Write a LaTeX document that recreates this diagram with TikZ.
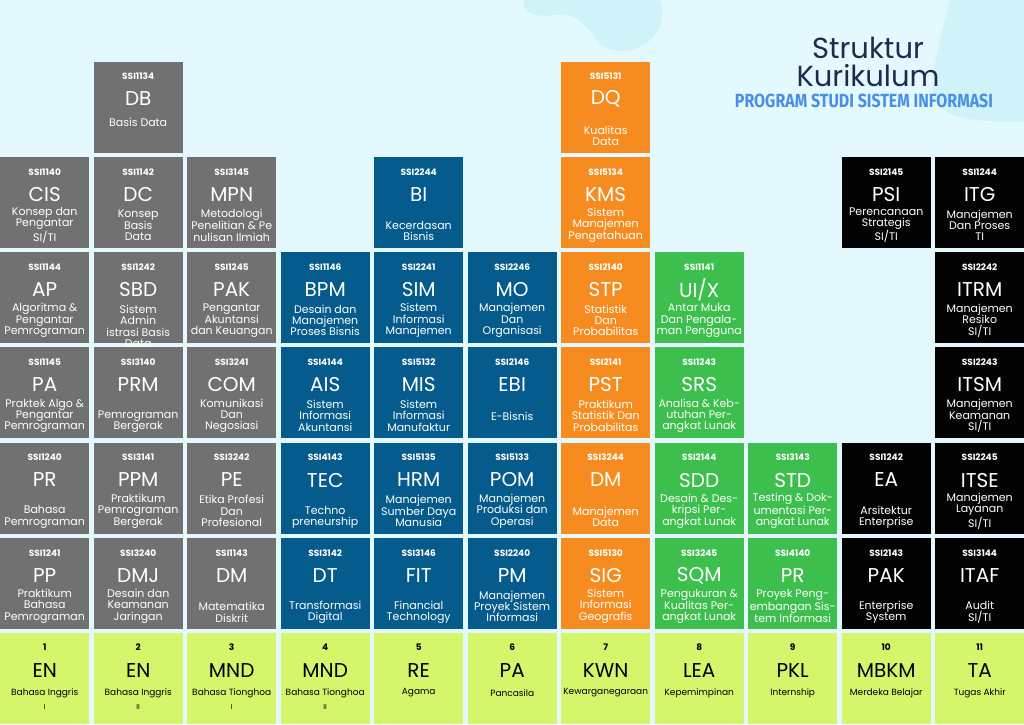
\documentclass[tikz,border=0pt]{standalone}
\usepackage{fontspec}
\setmainfont{Poppins}
\newfontfamily\subf{Fira Sans}
\usepackage{graphicx}
\definecolor{bgc}{HTML}{E4F9FD}
\definecolor{blobc}{HTML}{D0F3F9}
\definecolor{cgray}{HTML}{717171}
\definecolor{cblue}{HTML}{045B8C}
\definecolor{corange}{HTML}{F68B1F}
\definecolor{cgreen}{HTML}{3DBF4D}
\definecolor{cblack}{HTML}{030303}
\definecolor{clime}{HTML}{D5F66B}
\definecolor{ctitle}{HTML}{1E2B4D}
\definecolor{csub}{HTML}{4A8FE6}
\tikzset{
  cbox/.style={anchor=north west, minimum width=89pt, minimum height=91pt, inner sep=0pt, draw=none},
  ccode/.style={font=\fontsize{9}{10}\selectfont\bfseries, text=white, inner sep=0pt},
  cabbr/.style={font=\fontsize{20}{22}\selectfont, text=white, inner sep=0pt},
  cdesc/.style={font=\fontsize{11}{11.3}\selectfont, text=white, align=center, inner sep=0pt},
  lnum/.style={font=\fontsize{9}{10}\selectfont\bfseries, text=black, inner sep=0pt},
  labbr/.style={font=\fontsize{20}{22}\selectfont, text=black, inner sep=0pt},
  ldesc/.style={font=\fontsize{9}{10}\selectfont, text=black, inner sep=0pt},
  lrom/.style={font=\fontsize{7}{8}\selectfont, text=black, inner sep=0pt},
  ttl/.style={font=\fontsize{29}{31}\selectfont, text=ctitle, inner sep=0pt},
}
\newcommand\crs[8]{%
  \pgfmathsetmacro\cx{(#2-1)*93.5}%
  \pgfmathsetmacro\cy{61.5+95.25*#3}%
  \node[cbox, fill=#4] (#1) at (\cx,\cy) {};
  \node[ccode] (#1-code) at ([yshift=-15pt]#1.north) {#5};
  \node[cabbr] (#1-abbr) at ([yshift=-37.5pt]#1.north) {#6};
  \node[cdesc] (#1-desc) at ([yshift=-#8pt]#1.north) {#7};
}
\newcommand\lime[5]{%
  \pgfmathsetmacro\cx{(#2-1)*93.5}%
  \node[cbox, fill=clime] (#1) at (\cx,633) {};
  \node[lnum] (#1-num) at ([yshift=-14pt]#1.north) {#3};
  \node[labbr] (#1-abbr) at ([yshift=-38pt]#1.north) {#4};
  \node[ldesc] (#1-desc) at ([yshift=-60pt]#1.north) {#5};
}
\begin{document}
\begin{tikzpicture}[x=1pt,y=-1pt]
\useasboundingbox (0,0) rectangle (1024,724);
\fill[bgc] (0,0) rectangle (1024,724);
% blobs
\fill[blobc] (524,0) .. controls (520,12) and (535,18) .. (555,15)
  .. controls (580,12) and (588,30) .. (598,42)
  .. controls (608,55) and (640,55) .. (655,35)
  .. controls (665,20) and (663,8) .. (660,0) -- cycle;
\fill[blobc] (950,0) .. controls (940,40) and (928,80) .. (935,100)
  .. controls (945,120) and (980,122) .. (1024,122) -- (1024,0) -- cycle;
% title
\node[ttl] (t1) at (868,48) {Struktur};
\node[ttl] (t2) at (868,76) {Kurikulum};
\node[inner sep=0pt, text=csub] (t3) at (864,100.5) {\resizebox{258pt}{13.5pt}{\subf\bfseries PROGRAM STUDI SISTEM INFORMASI}};
% row 0
\crs{db}{2}{0}{cgray}{SSI1134}{DB}{Basis Data}{61}
\crs{dq}{7}{0}{corange}{SSI5131}{DQ}{Kualitas\\Data}{74.5}
% row 1
\crs{cis}{1}{1}{cgray}{SSI1140}{CIS}{Konsep dan\\Pengantar\\SI/TI}{68.5}
\crs{dc}{2}{1}{cgray}{SSI1142}{DC}{Konsep\\Basis\\Data}{68.5}
\crs{mpn}{3}{1}{cgray}{SSI3145}{MPN}{Metodologi\\Penelitian \& Pe\\nulisan Ilmiah}{68.5}
\crs{bi}{5}{1}{cblue}{SSI2244}{BI}{Kecerdasan\\Bisnis}{74.5}
\crs{kms}{7}{1}{corange}{SSI5134}{KMS}{Sistem\\Manajemen\\Pengetahuan}{68.5}
\crs{psi}{10}{1}{cblack}{SSI2145}{PSI}{Perencanaan\\Strategis\\SI/TI}{68.5}
\crs{itg}{11}{1}{cblack}{SSI1244}{ITG}{Manajemen\\Dan Proses\\TI}{68.5}
% row 2
\crs{ap}{1}{2}{cgray}{SSI1144}{AP}{Algoritma \&\\Pengantar\\Pemrograman}{68.5}
\crs{sbd}{2}{2}{cgray}{SSI1242}{SBD}{Sistem\\Admin\\istrasi Basis\\Data}{74.5}
\crs{pak}{3}{2}{cgray}{SSI1245}{PAK}{Pengantar\\Akuntansi\\dan Keuangan}{68.5}
\crs{bpm}{4}{2}{cblue}{SSI1146}{BPM}{Desain dan\\Manajemen\\Proses Bisnis}{68.5}
\crs{sim}{5}{2}{cblue}{SSI2241}{SIM}{Sistem\\Informasi\\Manajemen}{68.5}
\crs{mo}{6}{2}{cblue}{SSI2246}{MO}{Manajemen\\Dan\\Organisasi}{68.5}
\crs{stp}{7}{2}{corange}{SSI2140}{STP}{Statistik\\Dan\\Probabilitas}{68.5}
\crs{uix}{8}{2}{cgreen}{SSI1141}{UI/X}{Antar Muka\\Dan Pengala-\\man Pengguna}{68.5}
\crs{itrm}{11}{2}{cblack}{SSI2242}{ITRM}{Manajemen\\Resiko\\SI/TI}{68.5}
% row 3
\crs{pa}{1}{3}{cgray}{SSI1145}{PA}{Praktek Algo \&\\Pengantar\\Pemrograman}{68.5}
\crs{prm}{2}{3}{cgray}{SSI3140}{PRM}{Pemrograman\\Bergerak}{74.5}
\crs{com}{3}{3}{cgray}{SSI3241}{COM}{Komunikasi\\Dan\\Negosiasi}{68.5}
\crs{ais}{4}{3}{cblue}{SSI4144}{AIS}{Sistem\\Informasi\\Akuntansi}{68.5}
\crs{mis}{5}{3}{cblue}{SSI5132}{MIS}{Sistem\\Informasi\\Manufaktur}{68.5}
\crs{ebi}{6}{3}{cblue}{SSI2146}{EBI}{E-Bisnis}{69}
\crs{pst}{7}{3}{corange}{SSI2141}{PST}{Praktikum\\Statistik Dan\\Probabilitas}{68.5}
\crs{srs}{8}{3}{cgreen}{SSI1243}{SRS}{Analisa \& Keb-\\utuhan Per-\\angkat Lunak}{68.5}
\crs{itsm}{11}{3}{cblack}{SSI2243}{ITSM}{Manajemen\\Keamanan\\SI/TI}{68.5}
% row 4
\crs{pr}{1}{4}{cgray}{SSI1240}{PR}{Bahasa\\Pemrograman}{74.5}
\crs{ppm}{2}{4}{cgray}{SSI3141}{PPM}{Praktikum\\Pemrograman\\Bergerak}{68.5}
\crs{pe}{3}{4}{cgray}{SSI3242}{PE}{Etika Profesi\\Dan\\Profesional}{68.5}
\crs{tec}{4}{4}{cblue}{SSI4143}{TEC}{Techno\\preneurship}{74.5}
\crs{hrm}{5}{4}{cblue}{SSI5135}{HRM}{Manajemen\\Sumber Daya\\Manusia}{68.5}
\crs{pom}{6}{4}{cblue}{SSI5133}{POM}{Manajemen\\Produksi dan\\Operasi}{68.5}
\crs{dm}{7}{4}{corange}{SSI3244}{DM}{Manajemen\\Data}{74.5}
\crs{sdd}{8}{4}{cgreen}{SSI2144}{SDD}{Desain \& Des-\\kripsi Per-\\angkat Lunak}{68.5}
\crs{std}{9}{4}{cgreen}{SSI3143}{STD}{Testing \& Dok-\\umentasi Per-\\angkat Lunak}{68.5}
\crs{ea}{10}{4}{cblack}{SSI1242}{EA}{Arsitektur\\Enterprise}{74.5}
\crs{itse}{11}{4}{cblack}{SSI2245}{ITSE}{Manajemen\\Layanan\\SI/TI}{68.5}
% row 5
\crs{pp}{1}{5}{cgray}{SSI1241}{PP}{Praktikum\\Bahasa\\Pemrograman}{68.5}
\crs{dmj}{2}{5}{cgray}{SSI3240}{DMJ}{Desain dan\\Keamanan\\Jaringan}{68.5}
\crs{dmk}{3}{5}{cgray}{SSI1143}{DM}{Matematika\\Diskrit}{74.5}
\crs{dt}{4}{5}{cblue}{SSI3142}{DT}{Transformasi\\Digital}{74.5}
\crs{fit}{5}{5}{cblue}{SSI3146}{FIT}{Financial\\Technology}{74.5}
\crs{pm}{6}{5}{cblue}{SSI2240}{PM}{Manajemen\\Proyek Sistem\\Informasi}{68.5}
\crs{sig}{7}{5}{corange}{SSI5130}{SIG}{Sistem\\Informasi\\Geografis}{68.5}
\crs{sqm}{8}{5}{cgreen}{SSI3245}{SQM}{Pengukuran \&\\Kualitas Per-\\angkat Lunak}{68.5}
\crs{prsi}{9}{5}{cgreen}{SSI4140}{PR}{Proyek Peng-\\embangan Sis-\\tem Informasi}{68.5}
\crs{pak2}{10}{5}{cblack}{SSI2143}{PAK}{Enterprise\\System}{74.5}
\crs{itaf}{11}{5}{cblack}{SSI3144}{ITAF}{Audit\\SI/TI}{74.5}
% row 6 (lime)
\lime{b1}{1}{1}{EN}{Bahasa Inggris}
\lime{b2}{2}{2}{EN}{Bahasa Inggris}
\lime{b3}{3}{3}{MND}{Bahasa Tionghoa}
\lime{b4}{4}{4}{MND}{Bahasa Tionghoa}
\lime{b5}{5}{5}{RE}{Agama}
\lime{b6}{6}{6}{PA}{Pancasila}
\lime{b7}{7}{7}{KWN}{Kewarganegaraan}
\lime{b8}{8}{8}{LEA}{Kepemimpinan}
\lime{b9}{9}{9}{PKL}{Internship}
\lime{b10}{10}{10}{MBKM}{Merdeka Belajar}
\lime{b11}{11}{11}{TA}{Tugas Akhir}
\node[lrom] (b1-r) at ([yshift=-74pt]b1.north) {I};
\node[lrom] (b2-r) at ([yshift=-74pt]b2.north) {II};
\node[lrom] (b3-r) at ([yshift=-74pt]b3.north) {I};
\node[lrom] (b4-r) at ([yshift=-74pt]b4.north) {II};
\end{tikzpicture}
\end{document}
